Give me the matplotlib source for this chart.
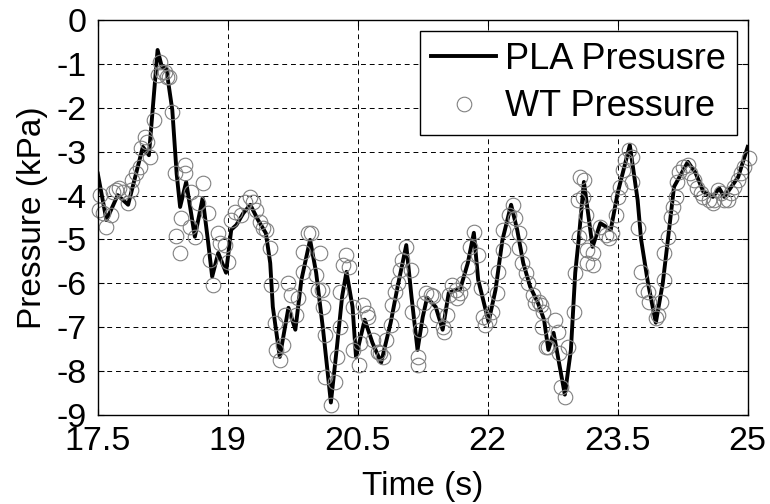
import matplotlib
matplotlib.use("Agg")
import matplotlib.pyplot as plt

# --- Data ---
pla_t = [17.50, 17.60, 17.73, 17.85, 18.02, 18.09, 18.19, 18.24, 18.29, 18.36,
         18.41, 18.45, 18.52, 18.62, 18.71, 18.77, 18.82, 18.89, 18.98, 19.04,
         19.10, 19.18, 19.26, 19.35, 19.44, 19.49, 19.52, 19.60, 19.70, 19.78,
         19.85, 19.95, 20.02, 20.10, 20.19, 20.26, 20.32, 20.37, 20.44, 20.48,
         20.58, 20.67, 20.77, 20.88, 20.96, 21.06, 21.12, 21.19, 21.25, 21.30,
         21.40, 21.48, 21.55, 21.63, 21.68, 21.77, 21.84, 21.89, 22.01, 22.09,
         22.17, 22.27, 22.34, 22.41, 22.49, 22.58, 22.65, 22.70, 22.76, 22.89,
         22.96, 23.01, 23.05, 23.11, 23.21, 23.30, 23.42, 23.50, 23.64, 23.73,
         23.77, 23.85, 23.94, 24.02, 24.08, 24.15, 24.31, 24.40, 24.49, 24.60,
         24.67, 24.73, 24.89, 25.00]
pla_p = [-3.50, -4.56, -3.99, -4.21, -2.89, -3.08, -0.68, -1.07, -1.10, -2.05,
         -3.50, -4.26, -3.69, -4.94, -4.06, -5.01, -5.85, -5.31, -5.76, -4.78,
         -4.67, -4.40, -4.21, -4.56, -4.86, -5.54, -6.54, -7.68, -6.56, -7.06,
         -5.92, -5.01, -5.76, -7.06, -8.72, -7.45, -6.30, -5.74, -6.54, -7.68,
         -6.83, -7.36, -7.81, -6.90, -6.08, -5.13, -6.30, -7.52, -6.77, -6.33,
         -6.54, -7.06, -6.22, -6.15, -6.15, -5.54, -4.85, -5.92, -6.88, -6.15,
         -5.01, -4.21, -4.78, -5.54, -6.08, -6.45, -6.83, -7.52, -7.13, -8.54,
         -7.52, -5.76, -5.00, -3.69, -5.17, -4.63, -4.78, -3.94, -2.85, -4.10,
         -5.00, -6.00, -6.90, -6.00, -5.00, -3.80, -3.23, -3.49, -3.92, -4.03,
         -3.83, -4.03, -3.58, -2.89]

wt_t = [17.52, 17.51, 17.56, 17.59, 17.65, 17.67, 17.71, 17.75, 17.79, 17.85,
        17.88, 17.90, 17.94, 17.99, 18.00, 18.04, 18.07, 18.10, 18.15,
        18.22, 18.19, 18.24, 18.27, 18.30, 18.32, 18.36,
        18.39, 18.51, 18.51, 18.58, 18.46, 18.40, 18.45, 18.56, 18.66, 18.71,
        18.62, 18.77, 18.79, 18.83, 18.89, 18.91, 18.97, 19.00, 19.04, 19.08,
        19.15, 19.20, 19.26, 19.29, 19.33, 19.37, 19.41, 19.44, 19.49, 19.50,
        19.55, 19.56, 19.60, 19.64, 19.66, 19.70, 19.73, 19.79, 19.81, 19.87,
        19.87, 19.93, 19.96, 20.02, 20.04,
        20.07, 20.09, 20.10, 20.12, 20.12, 20.24, 20.19, 20.26, 20.30, 20.30,
        20.37, 20.33, 20.40, 20.45, 20.45, 20.51, 20.53, 20.56, 20.61, 20.62,
        20.68, 20.73, 20.76, 20.79, 20.83, 20.88, 20.90, 20.93, 20.96, 20.99,
        21.01, 21.06, 21.11, 21.13, 21.19, 21.20, 21.22, 21.26, 21.29, 21.34,
        21.37, 21.42, 21.48, 21.49, 21.53, 21.55, 21.59, 21.63, 21.65, 21.68,
        21.72, 21.77, 21.80, 21.84, 21.89, 21.92, 21.94, 21.97, 22.01, 22.05,
        22.11, 22.12, 22.18, 22.18, 22.24, 22.29, 22.32, 22.36, 22.36, 22.40,
        22.44, 22.47, 22.52, 22.55, 22.59, 22.61, 22.64, 22.63, 22.67, 22.70,
        22.78, 22.81, 22.82, 22.84, 22.89, 22.93, 22.99, 23.01,
        23.04, 23.05, 23.07, 23.11, 23.10, 23.13, 23.15, 23.15, 23.15, 23.22,
        23.21, 23.30, 23.36, 23.40, 23.44, 23.48, 23.50, 23.53, 23.56, 23.59,
        23.63, 23.67, 23.67, 23.73, 23.77, 23.79, 23.85, 23.86, 23.94, 23.96,
        24.00, 24.03, 24.03, 24.08, 24.11, 24.14, 24.17, 24.19, 24.21, 24.25,
        24.31, 24.34, 24.38, 24.42, 24.46, 24.49, 24.55, 24.60, 24.61, 24.66,
        24.69, 24.73, 24.77, 24.81, 24.84, 24.89, 24.92, 24.96, 25.01]
wt_p = [-3.99, -4.33, -4.40, -4.71, -4.44, -3.92, -3.87, -3.83, -3.92, -4.17,
        -3.87, -3.64, -3.49, -3.35, -2.92, -2.66, -2.78, -3.12, -2.28,
        -0.95, -1.25, -1.18, -1.18, -1.30, -1.30, -2.09,
        -3.49, -3.30, -3.49, -3.92, -4.51, -4.92, -5.31, -4.71, -4.17, -3.71,
        -4.94, -4.40, -5.47, -6.04, -4.86, -5.08, -5.12, -5.51, -4.56, -4.37,
        -4.44, -4.14, -4.03, -4.14, -4.33, -4.60, -4.74, -4.78, -5.20, -6.04,
        -6.90, -7.52, -7.74, -7.40, -6.72, -6.00, -6.26, -6.72, -6.33, -5.74,
        -5.28, -4.85, -4.85, -5.81, -6.15,
        -5.31, -6.15, -6.54, -7.17, -8.13, -8.25, -8.77, -7.68, -6.99, -6.20,
        -5.35, -5.58, -5.63, -6.54, -7.52, -7.86, -7.36, -6.49, -6.67, -6.77,
        -7.29, -7.56, -7.59, -7.68, -7.29, -6.95, -6.49, -6.20, -6.00, -5.69,
        -5.47, -5.17, -5.69, -6.65, -7.68, -7.86, -7.06, -6.45, -6.22, -6.26,
        -6.30, -6.72, -6.99, -7.11, -6.72, -6.26, -6.04, -6.15, -6.33, -6.22,
        -6.00, -5.63, -5.17, -4.83, -5.35, -6.10, -6.77, -6.95, -6.83, -6.65,
        -6.22, -5.74, -5.24, -4.78, -4.44, -4.21, -4.51, -4.85, -5.20, -5.54,
        -5.76, -6.00, -6.26, -6.45, -6.42, -6.49, -6.65, -6.99, -7.45, -7.45,
        -6.83, -7.11, -7.59, -8.36, -8.59, -7.45, -6.65, -5.76,
        -4.10, -4.94, -3.58, -3.64, -4.03, -4.44, -4.85, -5.24, -5.54, -5.31,
        -5.58, -4.71, -4.90, -4.97, -4.85, -4.44, -4.03, -3.80, -3.42, -3.19,
        -2.96, -3.12, -3.69, -4.74, -5.74, -6.15, -6.20, -6.42, -6.79, -6.72,
        -6.42, -5.92, -5.31, -4.94, -4.49, -4.26, -4.03, -3.69, -3.46, -3.35,
        -3.30, -3.49, -3.64, -3.83, -3.94, -4.03, -4.10, -4.17, -4.10, -3.87,
        -3.94, -4.10, -4.10, -3.94, -3.80, -3.64, -3.49, -3.35, -3.14]

x_ticks = [17.5, 19, 20.5, 22, 23.5, 25]
y_ticks = [0, -1, -2, -3, -4, -5, -6, -7, -8, -9]

# --- Style ---
plt.rcParams.update({
    "font.family": ["Liberation Sans", "DejaVu Sans"],
    "font.size": 24,
    "axes.linewidth": 1.0,
})

fig = plt.figure(figsize=(7.7, 5.04), dpi=100)
ax = fig.add_axes([0.127, 0.177, 0.844, 0.783])

ax.plot(pla_t, pla_p, "-", color="black", linewidth=2.8, label="PLA Presusre")
ax.plot(wt_t, wt_p, "o", markerfacecolor="none", markeredgecolor="#808080",
        markersize=10.5, markeredgewidth=0.8, clip_on=False, label="WT Pressure")

ax.set_xlim(17.5, 25)
ax.set_ylim(-9, 0)
ax.set_xticks(x_ticks)
ax.set_xticklabels(["17.5", "19", "20.5", "22", "23.5", "25"])
ax.set_yticks(y_ticks)
ax.set_yticklabels([str(v) for v in y_ticks])
ax.tick_params(direction="in", length=4, width=0.8, top=True, right=True,
               labelsize=24.5, pad=8)

ax.grid(True, color="black", linestyle=(0, (5, 4)), linewidth=0.7)

ax.set_xlabel("Time (s)", fontsize=24, labelpad=10)
ax.set_ylabel("Pressure (kPa)", fontsize=24, labelpad=6)

leg = ax.legend(loc="upper right", fontsize=26, frameon=True, fancybox=False,
                framealpha=1, edgecolor="black", handlelength=1.8,
                handletextpad=0.25, borderpad=0.3, labelspacing=0.35,
                borderaxespad=0.3)
leg.get_frame().set_linewidth(1.0)

fig.savefig("out.png", dpi=100)
